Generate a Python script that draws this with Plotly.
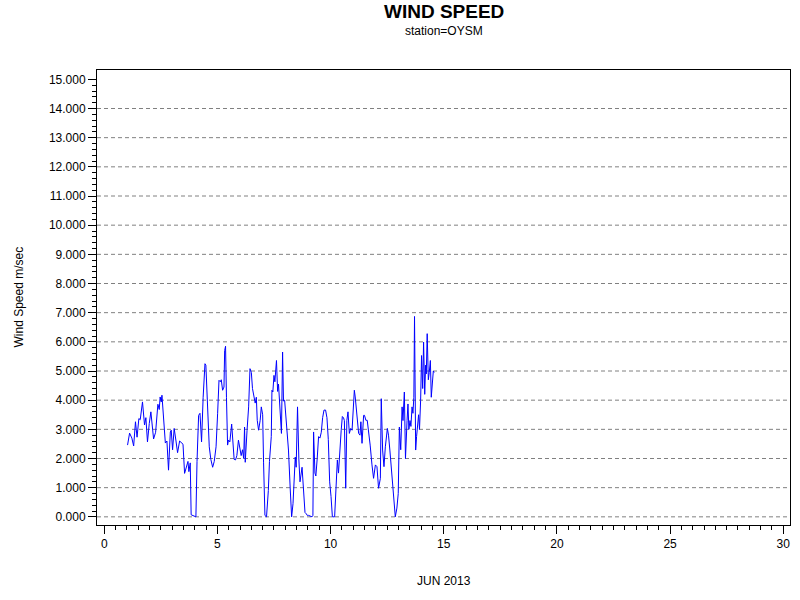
import plotly.graph_objects as go

# Day of month (June 2013) and wind speed (m/s)
day = [1.03, 1.12, 1.22, 1.30, 1.38, 1.45, 1.53, 1.59, 1.69, 1.78, 1.84, 1.91, 1.99, 2.06, 2.18, 2.27,
       2.37, 2.43, 2.47, 2.52, 2.55, 2.62, 2.70, 2.77, 2.84, 2.92, 2.96, 3.02, 3.09, 3.17, 3.24, 3.33,
       3.40, 3.48, 3.55, 3.62, 3.70, 3.74, 3.80, 3.84, 3.95, 4.05, 4.10, 4.17, 4.23, 4.30, 4.37, 4.45,
       4.49, 4.56, 4.64, 4.71, 4.79, 4.86, 4.94, 5.01, 5.07, 5.13, 5.17, 5.23, 5.29, 5.32, 5.36, 5.40,
       5.45, 5.49, 5.55, 5.63, 5.69, 5.74, 5.80, 5.86, 5.93, 6.00, 6.05, 6.11, 6.16, 6.20, 6.23, 6.31,
       6.38, 6.44, 6.50, 6.55, 6.62, 6.67, 6.72, 6.76, 6.82, 6.89, 6.94, 7.00, 7.04, 7.10, 7.17, 7.25,
       7.30, 7.38, 7.41, 7.45, 7.50, 7.54, 7.61, 7.66, 7.70, 7.78, 7.83, 7.88, 7.92, 7.97, 8.03, 8.07,
       8.14, 8.22, 8.28, 8.34, 8.40, 8.44, 8.48, 8.54, 8.60, 8.65, 8.74, 8.81, 8.87, 8.93, 8.97, 9.03,
       9.18, 9.22, 9.25, 9.31, 9.35, 9.41, 9.47, 9.53, 9.59, 9.65, 9.71, 9.78, 9.84, 9.90, 9.96, 10.02,
       10.08, 10.18, 10.24, 10.30, 10.35, 10.42, 10.47, 10.52, 10.57, 10.61, 10.67, 10.72, 10.77, 10.83,
       10.89, 10.95, 11.05, 11.09, 11.17, 11.24, 11.30, 11.34, 11.39, 11.46, 11.50, 11.56, 11.62, 11.68,
       11.75, 11.83, 11.90, 11.98, 12.05, 12.12, 12.20, 12.24, 12.30, 12.36, 12.42, 12.51, 12.56, 12.62,
       12.68, 12.74, 12.80, 12.86, 12.93, 12.99, 13.04, 13.10, 13.16, 13.20, 13.26, 13.31, 13.38, 13.42,
       13.46, 13.51, 13.55, 13.60, 13.64, 13.68, 13.71, 13.76, 13.80, 13.84, 13.89, 13.93, 13.98, 14.02,
       14.07, 14.11, 14.16, 14.20, 14.23, 14.27, 14.32, 14.36, 14.41, 14.45, 14.49, 14.54, 14.58]

wind_speed = [2.46, 2.87, 2.70, 2.43, 3.26, 2.73, 3.37, 3.33, 3.94, 3.15, 3.40, 2.57, 3.20, 3.60, 2.67, 2.90,
              3.86, 3.68, 4.11, 3.94, 4.17, 3.30, 2.53, 2.60, 1.60, 2.91, 2.97, 2.30, 3.03, 2.60, 2.20, 2.60,
              2.55, 2.49, 1.49, 1.72, 1.90, 1.55, 1.85, 0.07, 0.02, 0.00, 1.90, 3.48, 3.55, 2.57, 4.10, 5.25,
              5.20, 3.60, 2.40, 1.97, 1.70, 1.90, 2.40, 3.55, 4.68, 4.63, 4.70, 4.34, 4.45, 5.70, 5.85, 4.10,
              2.46, 2.63, 2.57, 3.18, 2.50, 1.97, 1.95, 2.10, 2.63, 2.30, 2.10, 2.30, 2.00, 3.08, 1.87, 2.97,
              3.77, 5.08, 4.95, 4.40, 4.05, 3.90, 4.10, 3.31, 2.97, 3.31, 3.77, 3.50, 1.85, 0.05, 0.00, 0.90,
              1.90, 2.75, 4.34, 4.28, 4.85, 4.63, 5.36, 4.30, 4.55, 3.50, 2.86, 5.65, 3.97, 4.00, 3.45, 3.20,
              2.29, 0.92, 0.00, 0.45, 1.88, 2.05, 1.70, 3.77, 1.95, 1.20, 1.70, 0.92, 0.15, 0.10, 0.05, 0.05,
              0.00, 0.05, 2.91, 1.50, 1.40, 2.00, 2.75, 2.70, 2.90, 3.40, 3.66, 3.66, 3.40, 2.65, 1.20, 0.70,
              0.00, 0.00, 0.90, 1.95, 1.50, 2.64, 2.97, 3.44, 3.40, 3.30, 0.98, 3.31, 3.60, 2.86,
              3.03, 2.97, 4.34, 4.11, 3.48, 2.86, 2.80, 3.26, 2.52, 3.48, 3.48, 3.31, 3.31, 2.97,
              2.46, 1.78, 1.32, 1.78, 1.72, 0.98, 1.32, 4.05, 2.29, 1.72, 2.40, 3.03, 2.80, 2.29,
              1.72, 0.92, 0.47, 0.00, 0.30, 0.80, 3.08, 2.30, 3.77, 3.30, 4.28, 2.00, 3.30, 3.87,
              3.00, 3.30, 3.10, 3.77, 3.55, 4.10, 6.87, 2.29, 2.75, 3.00, 3.50, 3.00, 4.00, 5.53,
              4.40, 5.99, 4.20, 5.20, 4.90, 6.28, 4.70, 4.95, 5.36, 4.10, 4.70, 5.00, 4.95]

y_tick_vals = list(range(0, 16))
grid_vals = list(range(0, 15))
x_tick_vals = [0, 5, 10, 15, 20, 25, 30]

FONT = "Liberation Sans, Arial, sans-serif"

fig = go.Figure()
fig.add_trace(go.Scatter(x=day, y=wind_speed, mode="lines",
                         line=dict(color="#0000FF", width=1), showlegend=False))

for g in grid_vals:
    fig.add_shape(type="line", xref="paper", x0=0, x1=1, yref="y", y0=g, y1=g,
                  line=dict(color="#808080", width=1, dash="4px,3px"), layer="below")

minor_y = [round(i * 0.2, 1) for i in range(0, 76)]

fig.update_layout(
    width=800, height=600,
    margin=dict(l=97, r=10, t=70, b=75, autoexpand=False),
    paper_bgcolor="white", plot_bgcolor="white",
    font=dict(family=FONT, size=12, color="black"),
    xaxis=dict(range=[-0.32, 30.30], tickmode="array", tickvals=x_tick_vals,
               ticks="outside", ticklen=8, tickwidth=1, tickcolor="black",
               showline=True, linecolor="black", linewidth=1, mirror=True,
               showgrid=False, zeroline=False, automargin=False,
               minor=dict(dtick=0.5, tick0=0, ticks="outside", ticklen=4,
                          tickcolor="black", showgrid=False),
               tickfont=dict(size=12, family=FONT)),
    yaxis=dict(range=[-0.28, 15.32], tickmode="array", tickvals=y_tick_vals,
               tickformat=".3f", automargin=False,
               ticks="outside", ticklen=8, tickwidth=1, tickcolor="black",
               showline=True, linecolor="black", linewidth=1, mirror=True,
               showgrid=False, zeroline=False,
               minor=dict(tickmode="array", tickvals=minor_y, ticks="outside",
                          ticklen=4, tickcolor="black", showgrid=False),
               tickfont=dict(size=12, family=FONT)),
    annotations=[
        dict(text="<b>WIND SPEED</b>", xref="paper", yref="paper", x=0.5, y=1,
             xanchor="center", yanchor="middle", yshift=59, showarrow=False,
             font=dict(size=19, family=FONT, color="black")),
        dict(text="station=OYSM", xref="paper", yref="paper", x=0.5, y=1,
             xanchor="center", yanchor="middle", yshift=39, showarrow=False,
             font=dict(size=12, family=FONT, color="black")),
        dict(text="JUN 2013", xref="paper", yref="paper", x=0.5, y=0,
             xanchor="center", yanchor="middle", yshift=-56, showarrow=False,
             font=dict(size=12, family=FONT, color="black")),
        dict(text="Wind Speed m/sec", xref="paper", yref="paper", x=0, y=0.5,
             xanchor="center", yanchor="middle", xshift=-79, textangle=-90,
             showarrow=False, font=dict(size=12, family=FONT, color="black")),
    ],
)

fig.write_html("out.html", config={"displayModeBar": False},
               post_script="document.body.style.margin='0px';")
